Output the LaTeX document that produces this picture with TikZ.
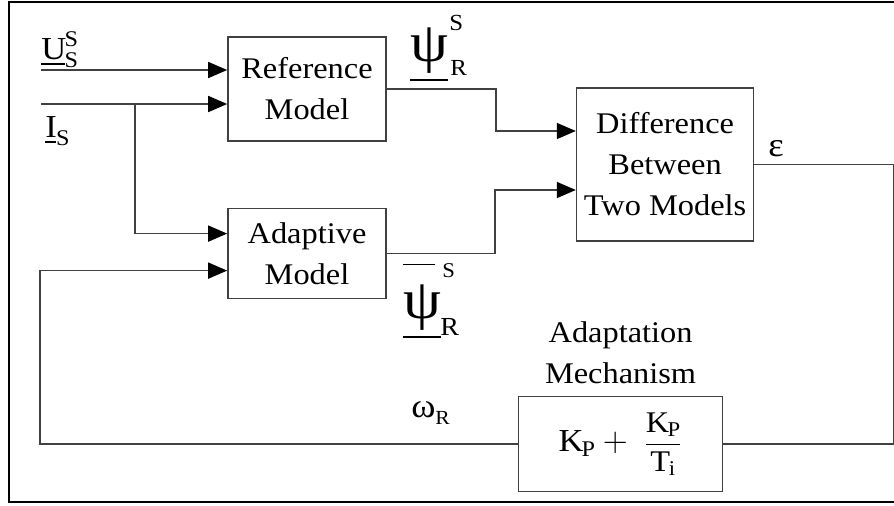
\documentclass[tikz,border=0pt]{standalone}
\usepackage{fontspec}
\setmainfont{Liberation Serif}[FakeStretch=1.08]
\usepackage{amsmath}
\usepackage{tikz}
\usetikzlibrary{arrows.meta,positioning}
\definecolor{ink}{HTML}{404040}

\begin{document}
\begin{tikzpicture}[x=0.5pt,y=-0.5pt,
  node distance=33pt,
  blk/.style={draw=ink,line width=0.8pt,minimum width=79pt,inner sep=0pt,
              align=center,font=\fontsize{15}{20.5}\selectfont},
  lbl/.style={inner sep=0pt,font=\fontsize{11.5}{11.5}\selectfont},
  wire/.style={line width=0.8pt,draw=ink},
  arr/.style={-{Triangle[length=9.5pt,width=8pt,black]},line width=0.8pt,draw=ink}]
  \useasboundingbox (0,0) rectangle (894,505);
  \draw[line width=1.2pt] (9,2) rectangle (898,502);
  \node[blk,minimum height=52pt] (ref) at (307,89) {Reference\\Model};
  \node[blk,minimum height=45pt,below=33pt of ref] (adapt) {Adaptive\\Model};
  \node[blk,minimum width=88.5pt,minimum height=76.5pt,
        below right=25.5pt and 94.5pt of ref.north east] (diff)
       {Difference\\Between\\Two Models};
  \node[blk,minimum width=102pt,minimum height=47.5pt,font=\fontsize{16}{16}\selectfont,
        below=77pt of diff,xshift=-22.25pt] (mech)
       {$\mathrm{K}_{\mathrm{P}}+\hspace{4pt}\mbox{\fontsize{15}{15}\selectfont
        $\dfrac{\mathrm{K}_{\mathrm{P}}}{\mathrm{T}_{\mathrm{i}}}$}$};
  \node[lbl,align=center,font=\fontsize{15}{20.5}\selectfont,above=6pt of mech] (mechlbl)
       {Adaptation\\Mechanism};
  \node[lbl,anchor=base west,font=\fontsize{16}{16}\selectfont] (us) at (41,59)
       {$\underline{\mathrm{U}}^{\mathrm{S}}_{\mathrm{S}}$};
  \node[lbl,anchor=base west,font=\fontsize{16}{16}\selectfont] (is) at (45,137)
       {$\underline{\mathrm{I}}_{\mathrm{S}}$};
  \node[lbl,anchor=base west,font=\fontsize{28}{28}\selectfont] (psiref) at (410,61) {\underline{ψ}};
  \node[lbl,anchor=base west] (psirefS) at (449,30) {S};
  \node[lbl,anchor=base west] (psirefR) at (450,75) {R};
  \node[lbl,anchor=base west,font=\fontsize{28}{28}\selectfont] (psiad) at (403,318)
       {\rlap{\raisebox{26.5pt}{\rule{16pt}{0.5pt}}}\underline{ψ}};
  \node[lbl,anchor=base west,font=\fontsize{10.5}{10.5}\selectfont] (psiadS) at (442,277) {S};
  \node[lbl,anchor=base west,font=\fontsize{13}{13}\selectfont] (psiadR) at (440,335) {R};
  \node[lbl,anchor=base west,font=\fontsize{17}{17}\selectfont] (eps) at (768,156) {ε};
  \node[lbl,anchor=base west,font=\fontsize{17}{17}\selectfont] (omega) at (411,417) {ω};
  \node[lbl,anchor=base west,font=\fontsize{10}{10}\selectfont] (omegaR) at (435,424) {R};
  \coordinate (uin) at (41,70);
  \coordinate (iin) at (41,104);
  \coordinate (br) at (135,104);
  \coordinate (fb) at (40,0);
  \draw[arr] (uin) -- (uin -| ref.west);
  \draw[arr] (iin) -- (iin -| ref.west);
  \draw[arr] (br) |- ([yshift=10pt]adapt.west);
  \draw[arr] (ref.east) -- ++(54.5pt,0) |- ([yshift=16.75pt]diff.west);
  \draw[arr] (adapt.east) -- ++(54pt,0) |- ([yshift=-12.75pt]diff.west);
  \draw[wire] (diff.east) -- ++(69.5pt,0) |- (mech.east);
  \draw[arr] (mech.west) -- (mech.west -| fb) |- ([yshift=-8.5pt]adapt.west);
\end{tikzpicture}
\end{document}
